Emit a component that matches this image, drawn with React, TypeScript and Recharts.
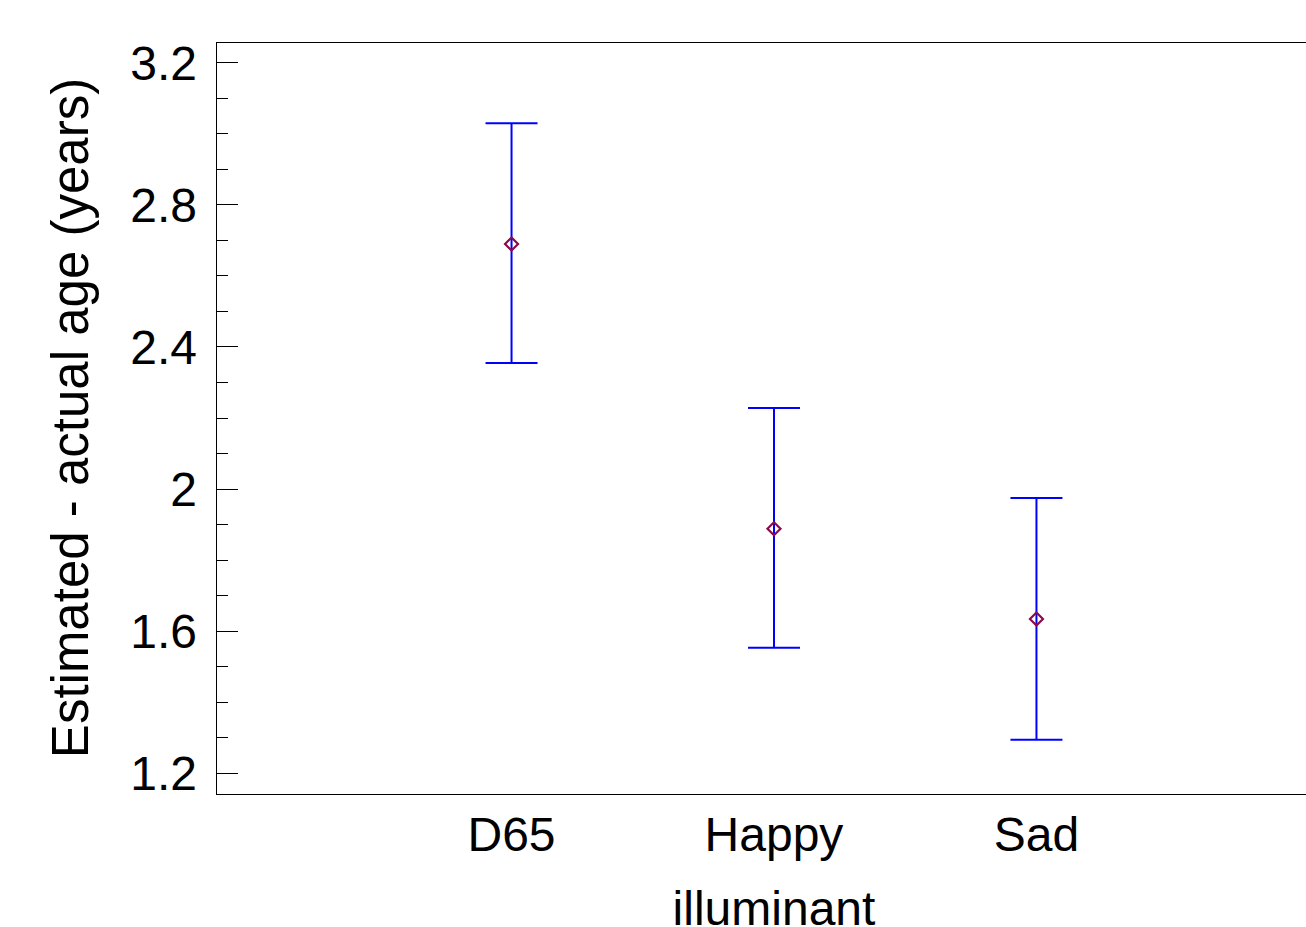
import { ComposedChart, Scatter, ErrorBar, XAxis, YAxis, Label, ReferenceLine } from 'recharts';

const categories = ['D65', 'Happy', 'Sad'];
const positions = [1, 2, 3];
const means = [2.69, 1.888, 1.634];
const lowers = [2.355, 1.553, 1.294];
const uppers = [3.03, 2.228, 1.975];
const majorTicks = [1.2, 1.6, 2, 2.4, 2.8, 3.2];
const minorTicks = [1.3, 1.4, 1.5, 1.7, 1.8, 1.9, 2.1, 2.2, 2.3, 2.5, 2.6, 2.7, 2.9, 3.0, 3.1];
const yDomain = [1.141, 3.259];
const xDomain = [-0.126, 4.027];

const data = categories.map((name, i) => ({
  x: positions[i],
  name,
  mean: means[i],
  err: [means[i] - lowers[i], uppers[i] - means[i]],
}));

const FONT = '"Liberation Sans", Arial, sans-serif';
const yTicks = [...majorTicks, ...minorTicks].sort((a, b) => a - b);
const axisStyle = { stroke: '#000', strokeWidth: 1, shapeRendering: 'crispEdges' };

function YTick(props: any) {
  const { x, y, payload } = props;
  const v = payload.value;
  const major = majorTicks.some((m) => Math.abs(m - v) < 1e-6);
  const axisX = x + 19;
  return (
    <g>
      <line
        x1={axisX}
        x2={axisX + (major ? 22 : 12)}
        y1={y}
        y2={y}
        stroke="#000"
        strokeWidth={1}
        shapeRendering="crispEdges"
      />
      {major && (
        <text x={x} y={y} dy="0.36em" textAnchor="end" fontSize={48} fontFamily={FONT} fill="#000">
          {String(v)}
        </text>
      )}
    </g>
  );
}

function Diamond(props: any) {
  const { cx, cy } = props;
  const r = 6.5;
  return (
    <polygon
      points={`${cx},${cy - r} ${cx + r},${cy} ${cx},${cy + r} ${cx - r},${cy}`}
      fill="none"
      stroke="#8b0a4a"
      strokeWidth={2.2}
    />
  );
}

export default function App() {
  return (
    <div style={{ position: 'absolute', left: 0, top: 0, background: '#fff' }}>
      <ComposedChart width={1306} height={927} data={data} margin={{ top: 42, right: 0, bottom: 0, left: 0 }}>
        <XAxis
          dataKey="x"
          type="number"
          domain={xDomain}
          ticks={positions}
          tickFormatter={(v: number) => categories[positions.indexOf(v)] ?? ''}
          tickLine={false}
          tickSize={0}
          tickMargin={23}
          height={133}
          axisLine={axisStyle}
          tick={{ fontSize: 48, fill: '#000', fontFamily: FONT }}
          interval={0}
        >
          <Label
            value="illuminant"
            position="insideBottom"
            offset={2}
            dx={13}
            style={{ fontSize: 48, fill: '#000', fontFamily: FONT }}
          />
        </XAxis>
        <YAxis
          type="number"
          domain={yDomain}
          ticks={yTicks}
          interval={0}
          width={216}
          tickLine={false}
          tickSize={0}
          tickMargin={19}
          tick={<YTick />}
          axisLine={axisStyle}
        >
          <Label
            value="Estimated - actual age (years)"
            angle={-90}
            position="insideLeft"
            offset={70}
            style={{ fontSize: 51, fill: '#000', fontFamily: FONT, textAnchor: 'middle' }}
          />
        </YAxis>
        <ReferenceLine y={yDomain[1]} stroke="#000" strokeWidth={1} shapeRendering="crispEdges" />
        <Scatter dataKey="mean" shape={<Diamond />} isAnimationActive={false}>
          <ErrorBar dataKey="err" direction="y" width={26} stroke="#0000ff" strokeWidth={2} isAnimationActive={false} />
        </Scatter>
      </ComposedChart>
    </div>
  );
}
